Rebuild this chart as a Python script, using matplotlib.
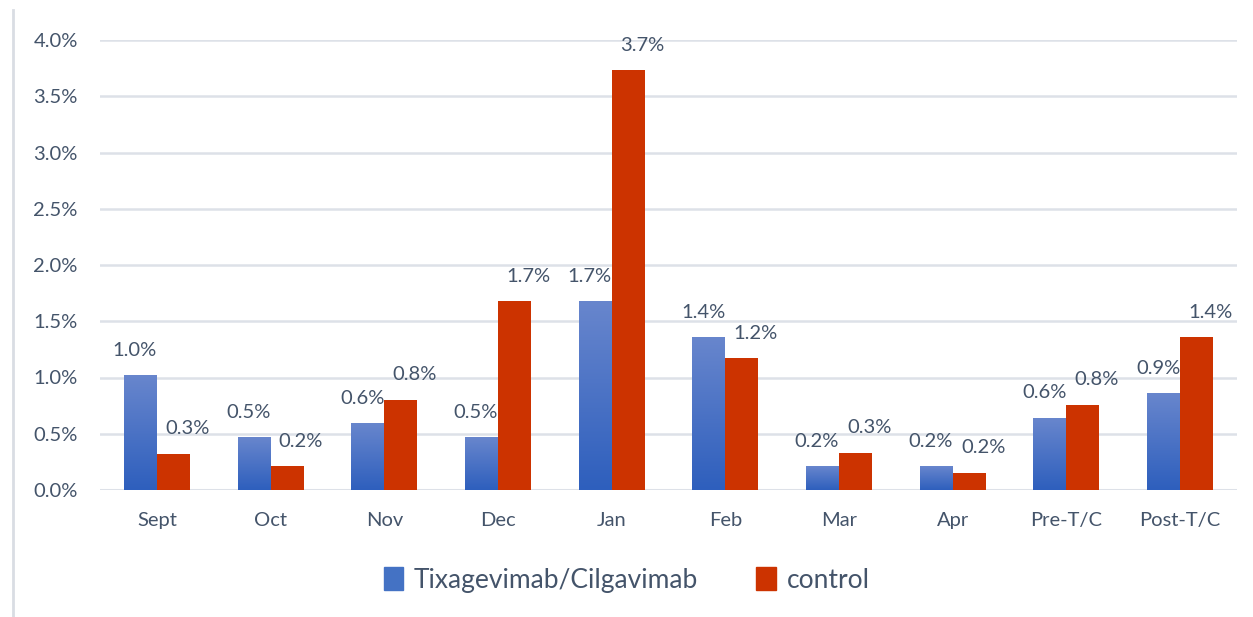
import numpy as np
import matplotlib
matplotlib.use("Agg")
import matplotlib.pyplot as plt
from matplotlib.patches import Rectangle
from matplotlib.lines import Line2D
from matplotlib.colors import LinearSegmentedColormap

categories = ["Sept", "Oct", "Nov", "Dec", "Jan", "Feb", "Mar", "Apr", "Pre-T/C", "Post-T/C"]
tixa = [1.02, 0.47, 0.59, 0.47, 1.68, 1.36, 0.21, 0.21, 0.64, 0.86]
control = [0.32, 0.21, 0.80, 1.68, 3.73, 1.17, 0.33, 0.155, 0.76, 1.36]
series_names = ["Tixagevimab/Cilgavimab", "control"]
yticks = [0.0, 0.5, 1.0, 1.5, 2.0, 2.5, 3.0, 3.5, 4.0]

FONT = "Lato"
TXT = "#44546a"
RED = "#cc3300"
BLUE = "#4472c4"
GRID = "#dde1e8"
FS = 14.5

fig = plt.figure(figsize=(12.53, 6.17), dpi=100)
W, H = 1253, 617
ax = fig.add_axes([100 / W, 1 - 490 / H, 1137 / W, 450 / H])

x = np.arange(len(categories))
bw = 0.29
b1 = ax.bar(x - bw / 2, tixa, bw, color=BLUE, zorder=3)
b2 = ax.bar(x + bw / 2, control, bw, color=RED, zorder=3)

# gradient for blue bars
grad = np.linspace(0, 1, 256).reshape(-1, 1)
cmap = LinearSegmentedColormap.from_list("g", ["#2e5fbd", "#6886cd"])
for p in b1:
    x0, w, h = p.get_x(), p.get_width(), p.get_height()
    ax.imshow(grad, extent=(x0, x0 + w, 0, h), origin="lower", cmap=cmap,
              aspect="auto", zorder=3.5, interpolation="bicubic")
    p.set_visible(False)

for p, v in zip(b1, tixa):
    ax.annotate(f"{v:.1f}%", (p.get_x() + p.get_width() / 2, v), xytext=(-4, 18),
                textcoords="offset points", ha="center", va="center",
                fontsize=FS, color=TXT, family=FONT, zorder=5)
for p, v in zip(b2, control):
    ax.annotate(f"{v:.1f}%", (p.get_x() + p.get_width() / 2, v), xytext=(10, 18),
                textcoords="offset points", ha="center", va="center",
                fontsize=FS, color=TXT, family=FONT, zorder=5)

ax.set_xlim(-0.5, len(categories) - 0.5)
ax.set_ylim(0, 4.0)
ax.set_yticks(yticks)
ax.set_yticklabels([f"{t:.1f}%" for t in yticks], family=FONT, fontsize=FS, color=TXT)
ax.set_xticks(x)
ax.set_xticklabels(categories, family=FONT, fontsize=FS, color=TXT)
ax.tick_params(axis="both", length=0)
ax.tick_params(axis="y", pad=16)
ax.tick_params(axis="x", pad=16)
ax.grid(axis="y", color=GRID, linewidth=1.8, zorder=0)
ax.set_axisbelow(True)
for s in ax.spines.values():
    s.set_visible(False)
ax.axhline(0, color=GRID, linewidth=2.2, zorder=2)

# frame line at left
fig.add_artist(Line2D([13 / W, 13 / W], [0, 1 - 10 / H], transform=fig.transFigure,
                      color="#d9dde3", linewidth=2))

handles = [Rectangle((0, 0), 1, 1, color=BLUE), Rectangle((0, 0), 1, 1, color=RED)]
leg = fig.legend(handles, series_names, loc="center", bbox_to_anchor=(0.5, 1 - 580 / H),
                 ncol=2, frameon=False, prop={"family": FONT, "size": 19},
                 handlelength=0.75, handleheight=0.95, handletextpad=0.4, columnspacing=2.2)
for t in leg.get_texts():
    t.set_color(TXT)

fig.savefig("out.png", dpi=100)
